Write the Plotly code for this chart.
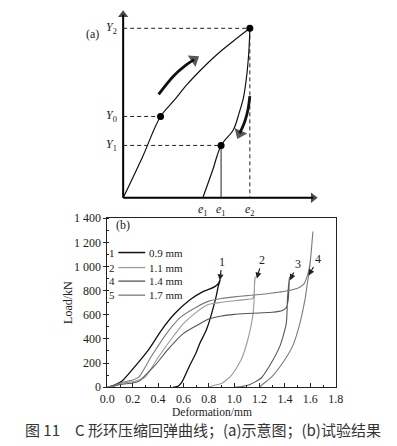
import plotly.graph_objects as go

# ---------------- Panel (b) data: Load (kN) vs Deformation (mm) ----------------
# curve "1" : 0.9 mm
def1 = [0.00, 0.05, 0.10, 0.125, 0.225, 0.327, 0.427, 0.528, 0.654, 0.75, 0.805, 0.85, 0.875, 0.89,
        0.875, 0.855, 0.78, 0.73, 0.70, 0.654, 0.59, 0.565, 0.54, 0.52]
load1 = [0, 15, 40, 60, 180, 313, 473, 606, 726, 790, 812, 835, 860, 890,
         840, 740, 473, 366, 286, 190, 46, 14, 2, 0]
# curve "2" : 1.1 mm
def2 = [0.00, 0.05, 0.10, 0.20, 0.25, 0.30, 0.40, 0.50, 0.60, 0.70, 0.80, 0.90, 1.00, 1.10, 1.145,
        1.155, 1.16, 1.165,
        1.16, 1.158, 1.145, 1.107, 1.057, 0.98, 0.905, 0.83, 0.80]
load2 = [0, 10, 30, 45, 60, 86, 246, 393, 526, 620, 686, 703, 716, 727, 733,
         760, 850, 915,
         870, 740, 580, 393, 233, 100, 33, 12, 0]
# curve "3" : 1.4 mm
def3 = [0.00, 0.05, 0.10, 0.20, 0.25, 0.30, 0.376, 0.478, 0.60, 0.73, 0.805, 0.90, 1.00, 1.10, 1.20, 1.30,
        1.38, 1.41, 1.425, 1.43, 1.435,
        1.43, 1.42, 1.41, 1.36, 1.28, 1.21, 1.12, 1.06, 1.00]
load3 = [0, 8, 22, 35, 50, 100, 180, 313, 446, 526, 566, 590, 603, 610, 615, 620,
         635, 660, 720, 800, 910,
         860, 740, 526, 340, 180, 74, 20, 6, 0]
# curve "4" : 1.7 mm
def4 = [0.00, 0.05, 0.12, 0.20, 0.25, 0.35, 0.478, 0.578, 0.704, 0.805, 0.90, 1.00, 1.10, 1.20, 1.30,
        1.40, 1.50, 1.55, 1.575, 1.59, 1.605, 1.62,
        1.605, 1.59, 1.575, 1.56, 1.51, 1.46, 1.385, 1.296, 1.22, 1.20]
load4 = [0, 12, 40, 60, 86, 260, 460, 580, 665, 715, 735, 748, 758, 767, 780,
         795, 820, 855, 920, 980, 1100, 1290,
         1100, 950, 850, 740, 500, 340, 206, 86, 20, 0]

curve_defs = [def1, def2, def3, def4]
curve_loads = [load1, load2, load3, load4]
curve_names = ["0.9 mm", "1.1 mm", "1.4 mm", "1.7 mm"]
legend_nums = ["1", "2", "4", "5"]
curve_colors = ["#111111", "#9a9a9a", "#555555", "#7a7a7a"]
curve_widths = [1.3, 1.1, 1.1, 1.1]

# curve labels on the chart: text, label position (tail), arrow head position
label_texts = ["1", "2", "3", "4"]
label_x = [0.905, 1.22, 1.50, 1.66]
label_y = [1040, 1055, 1020, 1060]
head_x = [0.886, 1.178, 1.44, 1.586]
head_y = [886, 900, 886, 926]

x_ticks = [0.0, 0.2, 0.4, 0.6, 0.8, 1.0, 1.2, 1.4, 1.6, 1.8]
y_ticks = [0, 200, 400, 600, 800, 1000, 1200, 1400]
y_ticklabels = ["0", "200", "400", "600", "800", "1 000", "1 200", "1 400"]

# ---------------- Panel (a) schematic values (relative units, e2 = Y2 = 1) ----------------
e2, Y2 = 1.0, 1.0
x0_pt, Y0 = 0.295, 0.48
e1b, Y1 = 0.773, 0.309
e1a = 0.629
load_sx = [0.0, 0.152, 0.295, 0.40, 0.505, 0.62, 0.732, 0.87, 1.0]
load_sy = [0.0, 0.24, 0.48, 0.573, 0.669, 0.76, 0.84, 0.925, 1.0]
unload_sx = [1.0, 0.997, 0.99, 0.975, 0.95, 0.915, 0.87, 0.773, 0.707, 0.629]
unload_sy = [1.0, 0.93, 0.84, 0.72, 0.593, 0.50, 0.402, 0.309, 0.164, 0.0]
ax_xmax, ax_ymax = 1.50, 1.08
# direction arrows (start -> end)
up_arrow_x = [0.28, 0.40, 0.49, 0.56]
up_arrow_y = [0.61, 0.72, 0.78, 0.815]
down_arrow_x = [1.0, 0.985, 0.96, 0.92]
down_arrow_y = [0.60, 0.52, 0.45, 0.38]

W, H = 397, 446
def px(x):
    return x / W
def py(y):
    return 1 - y / H

# schematic axes: origin at pixel (120, 197), 132 px per x unit, 175 px per y unit
SX0, SY0, KX, KY = 120, 197, 132, 175
A_LEFT, A_RIGHT, A_TOP, A_BOT = 70, 335, 2, 218

SERIF = "Liberation Serif, Times New Roman, serif"
fig = go.Figure()

# ---- panel (b) traces
for d, l, n, c, w in zip(curve_defs, curve_loads, curve_names, curve_colors, curve_widths):
    fig.add_trace(go.Scatter(x=d, y=l, mode="lines", name=n, showlegend=False,
                             line=dict(color=c, width=w, shape="spline", smoothing=0.6),
                             xaxis="x", yaxis="y", hoverinfo="skip"))

# ---- panel (a) traces
def arrow_trace(xs, ys, width, size, color="#000", spline=False):
    n = len(xs)
    return go.Scatter(x=xs, y=ys, mode="lines+markers", xaxis="x2", yaxis="y2", showlegend=False,
                      hoverinfo="skip",
                      line=dict(color=color, width=width, shape="spline" if spline else "linear"),
                      marker=dict(symbol="triangle-up", angleref="previous", color=color,
                                  size=[0] * (n - 1) + [size], line=dict(width=0)))

# axes with arrowheads
fig.add_trace(arrow_trace([0, 0], [0, ax_ymax], 2, 9))
fig.add_trace(arrow_trace([0, ax_xmax], [0, 0], 2, 9))
fig.add_trace(go.Scatter(x=load_sx, y=load_sy, mode="lines", xaxis="x2", yaxis="y2", hoverinfo="skip",
                         line=dict(color="#111", width=1.2, shape="spline"), showlegend=False))
fig.add_trace(go.Scatter(x=unload_sx, y=unload_sy, mode="lines", xaxis="x2", yaxis="y2", hoverinfo="skip",
                         line=dict(color="#111", width=1.2, shape="spline"), showlegend=False))
# dashed guides
for xs, ys in [([0, e2], [Y2, Y2]), ([e2, e2], [Y2, 0]), ([0, x0_pt], [Y0, Y0]), ([0, e1b], [Y1, Y1])]:
    fig.add_trace(go.Scatter(x=xs, y=ys, mode="lines", xaxis="x2", yaxis="y2", hoverinfo="skip",
                             line=dict(color="#222", width=1, dash="4px,3px"), showlegend=False))
# solid drop line at e1
fig.add_trace(go.Scatter(x=[e1b, e1b], y=[Y1, 0], mode="lines", xaxis="x2", yaxis="y2", hoverinfo="skip",
                         line=dict(color="#222", width=1), showlegend=False))
# points
fig.add_trace(go.Scatter(x=[e2, x0_pt, e1b], y=[Y2, Y0, Y1], mode="markers", xaxis="x2", yaxis="y2",
                         hoverinfo="skip", marker=dict(color="#000", size=7), showlegend=False))
# direction arrows
fig.add_trace(arrow_trace(up_arrow_x, up_arrow_y, 2.8, 12, "#111", spline=True))
fig.add_trace(arrow_trace(down_arrow_x, down_arrow_y, 2.8, 12, "#111", spline=True))

annotations = []
# schematic labels
for txt, yv in [("<i>Y</i><sub>2</sub>", Y2), ("<i>Y</i><sub>0</sub>", Y0), ("<i>Y</i><sub>1</sub>", Y1)]:
    annotations.append(dict(x=-0.03, y=yv, xref="x2", yref="y2", text=txt, showarrow=False,
                            xanchor="right", yanchor="middle", font=dict(family=SERIF, size=12, color="#222")))
for txt, xv in [("<i>e</i><sub>1</sub>", e1a), ("<i>e</i><sub>1</sub>", e1b), ("<i>e</i><sub>2</sub>", e2)]:
    annotations.append(dict(x=xv, y=-0.015, xref="x2", yref="y2", text=txt, showarrow=False,
                            xanchor="center", yanchor="top", font=dict(family=SERIF, size=12, color="#222")))
annotations.append(dict(x=-0.24, y=0.966, xref="x2", yref="y2", text="(a)", showarrow=False,
                        xanchor="center", yanchor="middle", font=dict(family=SERIF, size=12, color="#222")))

# panel (b) labels
annotations.append(dict(x=0.05, y=1340, xref="x", yref="y", text="(b)", showarrow=False,
                        xanchor="left", yanchor="middle", font=dict(family=SERIF, size=12, color="#222")))
for t, lx, ly, hx, hy in zip(label_texts, label_x, label_y, head_x, head_y):
    annotations.append(dict(x=hx, y=hy, ax=lx, ay=ly, xref="x", yref="y", axref="x", ayref="y",
                            text=t, showarrow=True, arrowhead=2, arrowsize=1, arrowwidth=1.2,
                            arrowcolor="#222", font=dict(family=SERIF, size=12, color="#222")))
# axis titles
annotations.append(dict(x=px(63), y=py(305), xref="paper", yref="paper", text="Load/kN", textangle=-90,
                        showarrow=False, xanchor="center", yanchor="middle",
                        font=dict(family=SERIF, size=12, color="#222")))
annotations.append(dict(x=px(213), y=py(418.5), xref="paper", yref="paper", text="Deformation/mm",
                        showarrow=False, xanchor="center", yanchor="middle", borderpad=0,
                        font=dict(family=SERIF, size=11.5, color="#222")))

# manual legend
shapes = []
leg_rows = [253.5, 269, 283, 297.5]
for num, name, c, w, r in zip(legend_nums, curve_names, curve_colors, curve_widths, leg_rows):
    shapes.append(dict(type="line", xref="paper", yref="paper", x0=px(115), x1=px(143), y0=py(r), y1=py(r),
                       line=dict(color=c, width=w + 0.2)))
    annotations.append(dict(x=px(114), y=py(r), xref="paper", yref="paper", text=num, showarrow=False,
                            xanchor="right", yanchor="middle", font=dict(family=SERIF, size=11, color="#222")))
    annotations.append(dict(x=px(145), y=py(r), xref="paper", yref="paper", text=name, showarrow=False,
                            xanchor="left", yanchor="middle", font=dict(family=SERIF, size=11, color="#222")))

# caption
annotations.append(dict(x=px(203.5), y=py(436.5), xref="paper", yref="paper",
                        text="图 11　C 形环压缩回弹曲线；(a)示意图；(b)试验结果", showarrow=False,
                        xanchor="center", yanchor="middle", borderpad=0,
                        font=dict(family="Noto Sans CJK SC", size=15, color="#333")))

fig.update_layout(
    width=W, height=H, autosize=False,
    margin=dict(l=0, r=0, t=0, b=0),
    paper_bgcolor="white", plot_bgcolor="white",
    showlegend=False,
    font=dict(family=SERIF, size=12, color="#222"),
    xaxis=dict(domain=[px(103.5), px(341.5)], anchor="y", range=[0, 1.8],
               tickvals=x_ticks, tickformat=".1f", ticks="inside", ticklen=4, tickcolor="#222",
               minor=dict(dtick=0.1, ticks="inside", ticklen=2, tickcolor="#222"),
               showline=True, linecolor="#222", linewidth=1, mirror=True, showgrid=False, zeroline=False,
               tickfont=dict(family=SERIF, size=12)),
    yaxis=dict(domain=[py(392.5), py(218)], anchor="x", range=[0, 1400],
               tickvals=y_ticks, ticktext=y_ticklabels, ticks="outside", ticklen=3, tickcolor="#222",
               minor=dict(dtick=100, ticks="inside", ticklen=2, tickcolor="#222"),
               showline=True, linecolor="#222", linewidth=1, mirror=True, showgrid=False, zeroline=False,
               tickfont=dict(family=SERIF, size=12)),
    xaxis2=dict(domain=[px(A_LEFT), px(A_RIGHT)], anchor="y2",
                range=[(A_LEFT - SX0) / KX, (A_RIGHT - SX0) / KX], visible=False),
    yaxis2=dict(domain=[py(A_BOT), py(A_TOP)], anchor="x2",
                range=[(SY0 - A_BOT) / KY, (SY0 - A_TOP) / KY], visible=False),
    annotations=annotations,
    shapes=shapes,
)

fig.write_html("out.html", config={"displayModeBar": False},
               post_script="document.body.style.margin='0';document.body.style.overflow='hidden';")
